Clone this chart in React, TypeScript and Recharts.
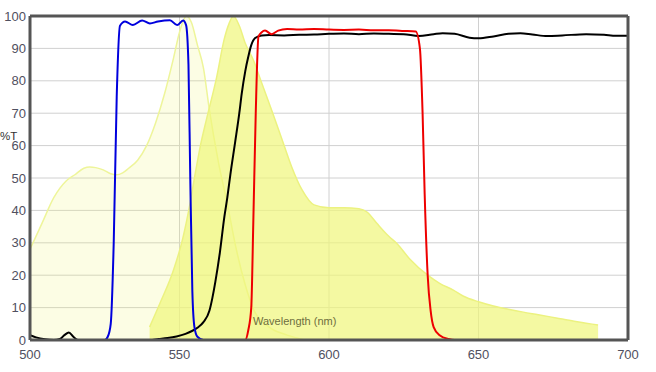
import React from 'react';
import {
  Area,
  CartesianGrid,
  ComposedChart,
  Line,
  XAxis,
  YAxis,
} from 'recharts';

// [wavelength nm, %T]
const excitation: [number, number][] = [
  [500, 28], [504, 36], [508, 44], [512, 49], [515, 51], [518, 53], [520, 53.4],
  [522, 53.2], [524.5, 52.5], [527, 51.3], [529, 51], [531, 51.6], [533, 53],
  [536, 55.5], [539, 60], [542, 67], [545, 76], [548, 87], [550, 95],
  [552.3, 100], [554, 98], [556, 91], [558, 84], [560, 71], [563, 55],
  [566, 42], [569, 28], [572, 17], [575, 9], [580, 4], [586, 1.5], [592, 0],
];

const emission: [number, number][] = [
  [540, 4], [543.5, 11.4], [548, 21.6], [551, 31], [553.5, 42], [555, 50],
  [557, 60], [559, 68], [562.4, 81], [565, 93], [566.5, 97.5], [568, 100],
  [570, 97], [572, 91.6], [574.7, 86.4], [577.5, 79.3], [580.8, 71],
  [584.7, 60.8], [587.5, 53.5], [591, 46.3], [595, 41.7], [600, 40.8],
  [605, 40.8], [610, 40.5], [612.7, 39.5], [616, 36], [620, 32], [622.7, 29.8],
  [627, 25], [633, 20], [637, 17.5], [641.6, 15.4], [645, 13.5], [650, 11.8],
  [655, 10.5], [660, 9.5], [665, 8.6], [670, 7.8], [676, 6.8], [682, 5.8],
  [686, 5.2], [690, 4.6],
];

const bandpassBlue: [number, number][] = [
  [500, 0], [525, 0], [526, 1], [527, 5], [528, 30], [529, 75], [530.1, 97],
  [531.8, 98.3], [534.4, 97.2], [537.5, 98.6], [540.1, 97.7], [542.8, 98.3],
  [546.8, 98.7], [549.2, 97.2], [551.2, 98.6], [552.2, 97.2], [553, 85],
  [553.6, 50], [554.3, 15], [555, 4], [556, 1], [558, 0], [700, 0],
];

const longpassBlack: [number, number][] = [
  [500, 1.5], [502, 0.8], [505, 0.2], [508, 0], [510, 0.3], [511.5, 1.5],
  [513, 2.3], [514.5, 1], [516, 0], [540, 0], [543, 0.3], [546, 0.6],
  [549, 1.1], [552, 1.9], [554, 2.7], [556, 3.8], [558, 5.5], [560, 9],
  [561, 13], [562, 18], [563.5, 27], [565, 38], [566, 44], [567, 51],
  [568.6, 61], [570, 70], [570.8, 76], [572, 83], [573, 87.4], [574, 91],
  [575.3, 93.2], [577.5, 94], [580, 94.1], [585, 94], [590, 94.2], [595, 94.3],
  [600, 94.5], [605, 94.6], [610, 94.4], [615, 94.6], [620, 94.5], [625, 94.4],
  [630, 93.8], [635, 94.4], [638, 94.7], [642, 94.5], [647, 93.3], [650, 93.1],
  [655, 93.7], [660, 94.5], [664, 94.7], [668, 94.3], [673, 93.8], [678, 94],
  [686, 94.4], [692, 94.2], [696, 93.9], [700, 93.9],
];

const bandpassRed: [number, number][] = [
  [500, 0], [572, 0], [573, 3], [574, 10], [574.7, 37], [575.5, 70],
  [576.4, 93.6], [577.5, 95], [578.6, 95.5], [580.8, 94.4], [583, 95.5],
  [586, 96], [590, 95.8], [595, 96], [600, 95.8], [605, 95.7], [610, 95.8],
  [615, 95.6], [620, 95.6], [625, 95.4], [629, 95.2], [630.4, 90], [631.3, 70],
  [632, 45], [633, 20], [634, 9], [635, 4], [637, 1.5], [640, 0.3], [642, 0],
  [700, 0],
];

const xTicks = [500, 550, 600, 650, 700];
const yTicks = [0, 10, 20, 30, 40, 50, 60, 70, 80, 90, 100];

const toRows = (pts: [number, number][]) => pts.map(([nm, v]) => ({ nm, v }));

const tickStyle = { fill: '#505060', fontSize: 13, fontFamily: 'Liberation Sans, Arial, sans-serif' };
const frame = { stroke: '#555', strokeWidth: 3 };

export default function App() {
  return (
    <div style={{ position: 'absolute', left: 0, top: 0, width: 656, height: 372, background: '#fff' }}>
      <ComposedChart width={656} height={372} margin={{ top: 0, right: 0, bottom: 0, left: 0 }}>
        <CartesianGrid stroke="#d0d0d0" strokeWidth={1} />
        <XAxis
          dataKey="nm"
          type="number"
          domain={[500, 700]}
          ticks={xTicks}
          height={32}
          tickSize={0}
          tickMargin={10}
          tick={tickStyle}
          axisLine={frame}
        />
        <XAxis xAxisId="top" orientation="top" type="number" domain={[500, 700]} height={16} tick={false} tickSize={0} axisLine={frame} />
        <YAxis
          domain={[0, 100]}
          ticks={yTicks}
          width={30}
          tickSize={0}
          tickMargin={4}
          tick={tickStyle}
          axisLine={frame}
        />
        <YAxis yAxisId="right" orientation="right" domain={[0, 100]} width={28} tick={false} tickSize={0} axisLine={frame} />
        <Area
          data={toRows(excitation)}
          dataKey="v"
          type="monotone"
          stroke="#eef59a"
          strokeWidth={1.5}
          fill="#f0f77a"
          fillOpacity={0.2}
          isAnimationActive={false}
        />
        <Area
          data={toRows(emission)}
          dataKey="v"
          type="monotone"
          stroke="#ecf280"
          strokeWidth={1.5}
          fill="#f0f77a"
          fillOpacity={0.7}
          isAnimationActive={false}
        />
        <Line data={toRows(longpassBlack)} dataKey="v" type="monotone" stroke="#000" strokeWidth={2} dot={false} isAnimationActive={false} />
        <Line data={toRows(bandpassBlue)} dataKey="v" type="monotone" stroke="#0000dd" strokeWidth={2} dot={false} isAnimationActive={false} />
        <Line data={toRows(bandpassRed)} dataKey="v" type="monotone" stroke="#ee0000" strokeWidth={2} dot={false} isAnimationActive={false} />
      </ComposedChart>
      <div style={{ position: 'absolute', left: 0, top: 130, fontSize: 11.5, fontFamily: 'Liberation Sans, Arial, sans-serif', color: '#333' }}>
        %T
      </div>
      <div style={{ position: 'absolute', left: 253, top: 315, fontSize: 11, fontFamily: 'Liberation Sans, Arial, sans-serif', color: '#6e6e40' }}>
        Wavelength (nm)
      </div>
    </div>
  );
}
